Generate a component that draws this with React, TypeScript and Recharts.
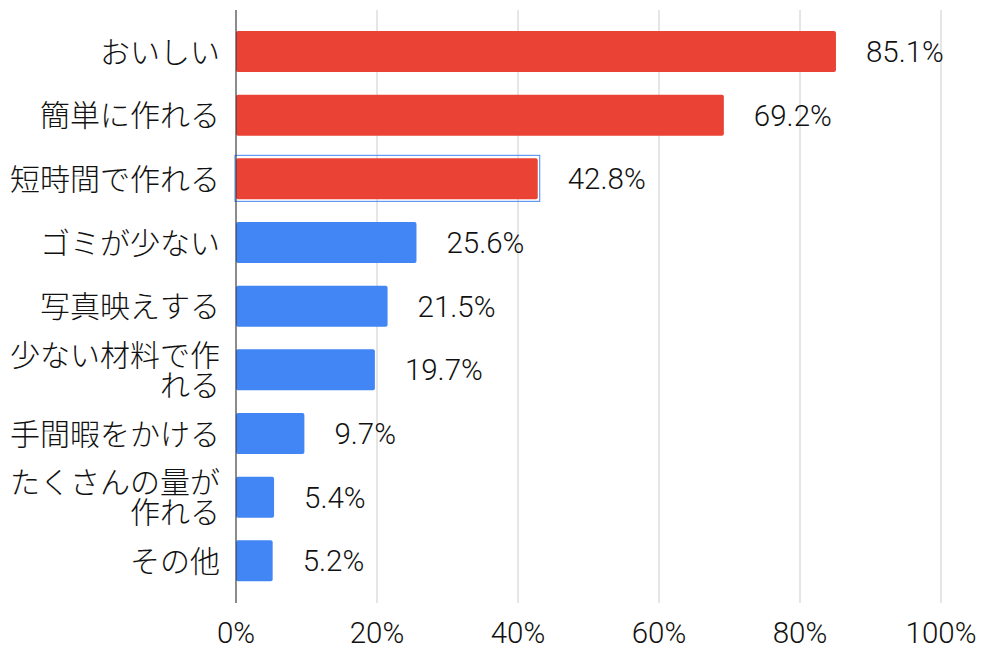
import React from 'react';
import { BarChart, Bar, XAxis, YAxis, CartesianGrid, LabelList, Cell } from 'recharts';

const categories = ['おいしい', '簡単に作れる', '短時間で作れる', 'ゴミが少ない', '写真映えする', '少ない材料で作れる', '手間暇をかける', 'たくさんの量が作れる', 'その他'];
const values = [85.1, 69.2, 42.8, 25.6, 21.5, 19.7, 9.7, 5.4, 5.2];
const xTicks = [0, 20, 40, 60, 80, 100];
const topCount = 3;
const selectedIndex = 2;

const data = categories.map((name, i) => ({ name, value: values[i] }));

const FONT = "Roboto, 'Noto Sans CJK JP', sans-serif";
const RED = '#EA4335';
const BLUE = '#4285F4';
const TEXT = '#111';

function wrap(s: string, n: number): string[] {
  const out: string[] = [];
  for (let i = 0; i < s.length; i += n) out.push(s.slice(i, i + n));
  return out;
}

const CatTick = (props: any) => {
  const { x, y, payload } = props;
  const lines = wrap(String(payload.value), 7);
  const lh = 30;
  const start = y - ((lines.length - 1) * lh) / 2;
  return (
    <g>
      {lines.map((l, i) => (
        <text key={i} x={x} y={start + i * lh} dy="0.36em" textAnchor="end" fontSize={30} fontWeight={300} fill={TEXT} fontFamily={FONT}>
          {l}
        </text>
      ))}
    </g>
  );
};

const BarShape = (props: any) => {
  const { x, y, width, height, fill, index } = props;
  return (
    <g>
      <rect x={x} y={y} width={width} height={height} rx={2} ry={2} fill={fill} />
      {index === selectedIndex && (
        <rect x={x - 1} y={y - 3} width={width + 3} height={height + 5} fill="none" stroke={BLUE} strokeWidth={1} />
      )}
    </g>
  );
};

export default function App() {
  return (
    <div style={{ position: 'fixed', left: 0, top: 0, background: '#fff' }}>
      <BarChart
        width={986}
        height={655}
        data={data}
        layout="vertical"
        margin={{ top: 10, right: 45, bottom: 0, left: 0 }}
      >
        <CartesianGrid horizontal={false} stroke="#cccccc" />
        <XAxis
          type="number"
          domain={[0, 100]}
          ticks={xTicks}
          tickFormatter={(v: number) => `${v}%`}
          axisLine={false}
          tickLine={false}
          tickSize={0}
          tickMargin={19}
          height={52}
          tick={{ fontSize: 29.5, fill: TEXT, fontFamily: FONT, fontWeight: 300 }}
        />
        <YAxis
          type="category"
          dataKey="name"
          width={236}
          padding={{ top: 10, bottom: 10 }}
          axisLine={{ stroke: '#333', strokeWidth: 1 }}
          tickLine={false}
          tickSize={0}
          tickMargin={16}
          tick={<CatTick />}
          interval={0}
        />
        <Bar dataKey="value" barSize={41} isAnimationActive={false} shape={<BarShape />}>
          {data.map((d, i) => (
            <Cell key={d.name} fill={i < topCount ? RED : BLUE} />
          ))}
          <LabelList
            dataKey="value"
            position="right"
            offset={30}
            formatter={(v: any) => `${v}%`}
            style={{ fontSize: 29.5, fill: TEXT, fontFamily: FONT, fontWeight: 300 }}
          />
        </Bar>
      </BarChart>
    </div>
  );
}
